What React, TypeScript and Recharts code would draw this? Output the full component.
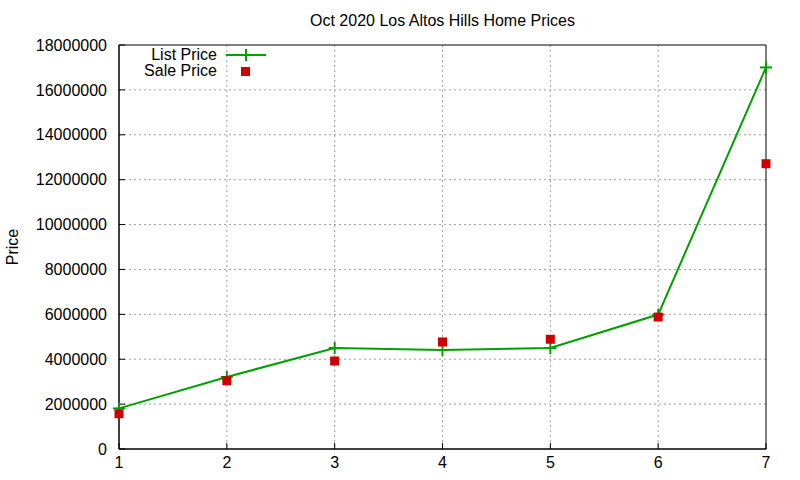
import React from 'react';
import {
  ComposedChart,
  Line,
  Scatter,
  XAxis,
  YAxis,
  CartesianGrid,
  ReferenceArea,
} from 'recharts';

// Prix d'octobre 2020
const homes = [1, 2, 3, 4, 5, 6, 7];
const listPrice = [1810000, 3210000, 4500000, 4410000, 4500000, 5990000, 17000000];
const salePrice = [1570000, 3040000, 3920000, 4770000, 4890000, 5880000, 12710000];
const yTicks = [0, 2000000, 4000000, 6000000, 8000000, 10000000, 12000000, 14000000, 16000000, 18000000];

const data = homes.map((x, i) => ({ x, list: listPrice[i], sale: salePrice[i] }));

const GREEN = '#00a000';
const RED = '#cc0000';
const FONT = '"Liberation Sans", Arial, sans-serif';

const Plus = (props: any) => {
  const { cx, cy } = props;
  if (cx == null || cy == null) return null;
  return (
    <g>
      <line x1={cx - 6} y1={cy} x2={cx + 6} y2={cy} stroke={GREEN} strokeWidth={2} />
      <line x1={cx} y1={cy - 6} x2={cx} y2={cy + 6} stroke={GREEN} strokeWidth={2} />
    </g>
  );
};

const Square = (props: any) => {
  const { cx, cy } = props;
  if (cx == null || cy == null) return null;
  return <rect x={cx - 4.5} y={cy - 4.5} width={9} height={9} fill={RED} />;
};

function ChartLegend() {
  return (
    <svg width={160} height={40} style={{ position: 'absolute', left: 110, top: 44 }}>
      <text x={107} y={16} textAnchor="end" fontSize={16} fontFamily={FONT}>List Price</text>
      <line x1={116} y1={11} x2={156} y2={11} stroke={GREEN} strokeWidth={2} />
      <line x1={136} y1={5} x2={136} y2={17} stroke={GREEN} strokeWidth={2} />
      <line x1={130} y1={11} x2={142} y2={11} stroke={GREEN} strokeWidth={2} />
      <text x={107} y={32} textAnchor="end" fontSize={16} fontFamily={FONT}>Sale Price</text>
      <rect x={131} y={23} width={9} height={9} fill={RED} />
    </svg>
  );
}

export default function App() {
  const tickStyle = { fill: '#000', fontSize: 16, fontFamily: FONT };
  return (
    <div style={{ position: 'absolute', left: 0, top: 0, width: 800, height: 480, background: '#fff' }}>
      <div
        style={{
          position: 'absolute',
          top: 12,
          left: 119,
          width: 647,
          textAlign: 'center',
          fontFamily: FONT,
          fontSize: 16,
          color: '#000',
        }}
      >
        Oct 2020 Los Altos Hills Home Prices
      </div>
      <ComposedChart
        width={800}
        height={480}
        data={data}
        margin={{ top: 45, right: 34, bottom: 0, left: 0 }}
      >
        <CartesianGrid
          stroke="#a0a0a0"
          strokeDasharray="2 3"
          horizontalValues={yTicks.slice(1, -1)}
          verticalValues={homes.slice(1, -1)}
        />
        <XAxis
          dataKey="x"
          type="number"
          domain={[1, 7]}
          ticks={homes}
          height={31}
          stroke="#000"
          tickSize={-6}
          tickMargin={14}
          tick={tickStyle}
          interval={0}
        />
        <XAxis
          xAxisId="top"
          orientation="top"
          dataKey="x"
          type="number"
          domain={[1, 7]}
          ticks={homes}
          height={0}
          stroke="#000"
          tickSize={-6}
          tick={false}
        />
        <YAxis
          type="number"
          domain={[0, 18000000]}
          ticks={yTicks}
          width={119}
          stroke="#000"
          tickSize={-6}
          tickMargin={18}
          tick={tickStyle}
          interval={0}
          label={{
            value: 'Price',
            angle: -90,
            position: 'insideLeft',
            offset: 12,
            style: { textAnchor: 'middle', fontSize: 16, fontFamily: FONT, fill: '#000' },
          }}
        />
        <YAxis
          yAxisId="right"
          orientation="right"
          type="number"
          domain={[0, 18000000]}
          ticks={yTicks}
          width={0}
          stroke="#000"
          tickSize={-6}
          tick={false}
        />
        <ReferenceArea x1={1} x2={7} y1={0} y2={18000000} fill="none" stroke="#000" strokeWidth={1} />
        <Line
          dataKey="list"
          stroke={GREEN}
          strokeWidth={2}
          dot={<Plus />}
          activeDot={false}
          isAnimationActive={false}
        />
        <Scatter dataKey="sale" fill={RED} shape={<Square />} isAnimationActive={false} />
      </ComposedChart>
      <ChartLegend />
    </div>
  );
}
